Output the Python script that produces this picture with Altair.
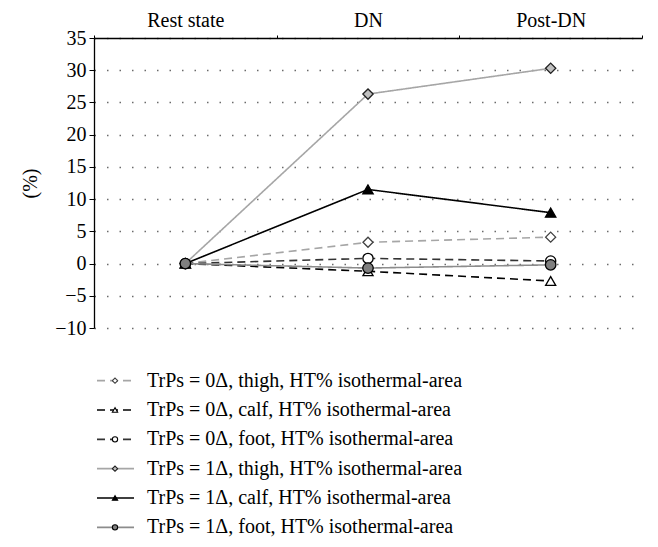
import altair as alt
import pandas as pd

stages = ["Rest state", "DN", "Post-DN"]
series = [
    "TrPs = 0Δ, thigh, HT% isothermal-area",
    "TrPs = 0Δ, calf, HT% isothermal-area",
    "TrPs = 0Δ, foot, HT% isothermal-area",
    "TrPs = 1Δ, thigh, HT% isothermal-area",
    "TrPs = 1Δ, calf, HT% isothermal-area",
    "TrPs = 1Δ, foot, HT% isothermal-area",
]
v_0_thigh = [0.0, 3.3, 4.1]
v_0_calf = [0.0, -1.2, -2.7]
v_0_foot = [0.0, 0.8, 0.4]
v_1_thigh = [0.0, 26.3, 30.3]
v_1_calf = [0.0, 11.5, 7.9]
v_1_foot = [0.0, -0.7, -0.2]
values = [v_0_thigh, v_0_calf, v_0_foot, v_1_thigh, v_1_calf, v_1_foot]

line_colors = ["#a6a6a6", "#000000", "#333333", "#a6a6a6", "#000000", "#8c8c8c"]
dashes = [[8, 5], [8, 5], [8, 5], [1, 0], [1, 0], [1, 0]]
shapes = ["diamond", "triangle-up", "circle", "diamond", "triangle-up", "circle"]
fills = ["white", "white", "white", "#c0c0c0", "black", "#7f7f7f"]
mstrokes = ["#404040", "#000000", "#000000", "#202020", "#000000", "#000000"]
msizes = [100, 110, 110, 100, 110, 110]

rows = []
for s, vals in zip(series, values):
    for st, v in zip(stages, vals):
        rows.append({"series": s, "stage": st, "value": v})
df = pd.DataFrame(rows)

FONT = "Liberation Serif"
FS = 20

color_sc = alt.Scale(domain=series, range=line_colors)
dash_sc = alt.Scale(domain=series, range=dashes)
shape_sc = alt.Scale(domain=series, range=shapes)
fill_sc = alt.Scale(domain=series, range=fills)
mstroke_sc = alt.Scale(domain=series, range=mstrokes)
size_sc = alt.Scale(domain=series, range=msizes)

x_enc = alt.X(
    "stage:N", sort=stages, title=None,
    scale=alt.Scale(paddingInner=0, paddingOuter=0),
    axis=alt.Axis(orient="top", labelAngle=0, tickBand="extent", domainColor="black",
                  tickColor="black", tickSize=3, labelFont=FONT, labelFontSize=FS,
                  labelColor="black", labelPadding=5, grid=False, domainWidth=1.3),
)
y_enc = alt.Y(
    "value:Q", title="(%)",
    scale=alt.Scale(domain=[-10, 35], nice=False),
    axis=alt.Axis(values=list(range(-10, 36, 5)), tickColor="black", domainColor="black",
                  tickSize=5, labelFont=FONT, labelFontSize=FS, labelColor="black",
                  labelPadding=3,
                  titleFont=FONT, titleFontSize=FS, titleFontWeight="normal",
                  titleColor="black", titlePadding=14, gridColor="#6b6b6b",
                  gridDash=[1.5, 11], gridWidth=1.3, domainWidth=1.3),
)

base = alt.Chart(df).encode(x=x_enc, y=y_enc, detail="series:N")

lines = base.mark_line(strokeWidth=1.6).encode(
    color=alt.Color("series:N", scale=color_sc, legend=None),
    strokeDash=alt.StrokeDash("series:N", scale=dash_sc, legend=None),
)
points = base.mark_point(filled=False, strokeWidth=1.3, opacity=1).encode(
    shape=alt.Shape("series:N", scale=shape_sc, legend=None),
    fill=alt.Fill("series:N", scale=fill_sc, legend=None),
    stroke=alt.Stroke("series:N", scale=mstroke_sc, legend=None),
    size=alt.Size("series:N", scale=size_sc, legend=None),
)

main = alt.layer(lines, points).resolve_scale(
    color="independent", stroke="independent", fill="independent"
).properties(width=548, height=290)

leg_df = pd.DataFrame({"series": series})
leg_y = alt.Y("series:N", sort=series, axis=None, scale=alt.Scale(paddingInner=0, paddingOuter=0))
leg_base = alt.Chart(leg_df).encode(y=leg_y)
leg_rule = leg_base.mark_rule(strokeWidth=1.6).encode(
    x=alt.value(3), x2=alt.value(40),
    color=alt.Color("series:N", scale=color_sc, legend=None),
    strokeDash=alt.StrokeDash(
        "series:N",
        scale=alt.Scale(domain=series, range=[[8, 7], [8, 7], [8, 7], [1, 0], [1, 0], [1, 0]]),
        legend=None,
    ),
)
leg_pt = leg_base.mark_point(size=28, strokeWidth=1.1, opacity=1).encode(
    x=alt.value(21),
    shape=alt.Shape("series:N", scale=shape_sc, legend=None),
    fill=alt.Fill("series:N", scale=fill_sc, legend=None),
    stroke=alt.Stroke("series:N", scale=mstroke_sc, legend=None),
)
leg_txt = leg_base.mark_text(align="left", baseline="middle", font=FONT, fontSize=FS, color="black").encode(
    x=alt.value(53), text="series:N"
)
legend = alt.layer(leg_rule, leg_pt, leg_txt).resolve_scale(
    color="independent", stroke="independent", fill="independent"
).properties(width=548, height=176)

chart = alt.vconcat(main, legend, spacing=28).properties(
    background="white",
    padding={"left": 12, "top": 2, "right": 5, "bottom": 5},
).configure_view(strokeWidth=0)

chart.save("out.html", embed_options={"renderer": "svg", "actions": False})
